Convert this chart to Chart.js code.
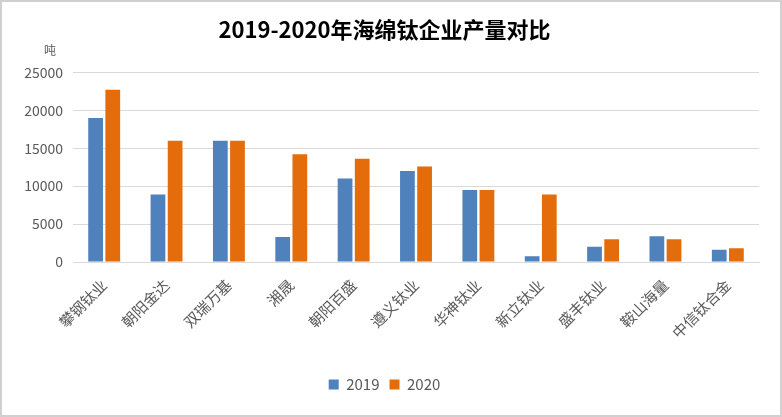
<!DOCTYPE html>
<html>
<head>
<meta charset="utf-8">
<script src="https://cdn.jsdelivr.net/npm/chart.js@4"></script>
<style>
  html, body { margin: 0; padding: 0; background: #fff; }
  #wrap { width: 782px; height: 417px; }
</style>
</head>
<body>
<div id="wrap"><canvas id="c" width="782" height="417"></canvas></div>
<script>
/* 2019-2020 sponge titanium output by company */
const companies = ["攀钢钛业", "朝阳金达", "双瑞万基", "湘晟", "朝阳百盛", "遵义钛业",
                   "华神钛业", "新立钛业", "盛丰钛业", "鞍山海量", "中信钛合金"];
const output2019 = [19000, 8900, 16000, 3300, 11000, 12000, 9500, 750, 2000, 3400, 1600];
const output2020 = [22700, 16000, 16000, 14200, 13600, 12600, 9500, 8900, 3000, 3000, 1800];
const yTicks = [0, 5000, 10000, 15000, 20000, 25000];

const BLUE = "#4f81bd", ORANGE = "#e46c0a", GREY = "#595959";
const CJK = "'Noto Sans CJK SC', 'Noto Sans', sans-serif";

// white background, outer frame and the unit label above the y axis
const frame = {
  id: "frame",
  beforeDraw(chart) {
    const c = chart.ctx;
    c.save();
    c.fillStyle = "#fff"; c.fillRect(0, 0, chart.width, chart.height);
    c.strokeStyle = "#d0d0d0"; c.lineWidth = 2;
    c.strokeRect(1, 1, chart.width - 2, chart.height - 2);
    c.restore();
  },
  afterDraw(chart) {
    const c = chart.ctx, y = chart.scales.y;
    c.save();
    c.font = `12px ${CJK}`; c.fillStyle = GREY;
    c.textAlign = "center"; c.textBaseline = "middle";
    c.fillText("吨", y.left + 40, y.top - 22);
    c.restore();
  },
};

new Chart(document.getElementById("c"), {
  type: "bar",
  data: {
    labels: companies,
    datasets: [
      { label: "2019", data: output2019, backgroundColor: BLUE },
      { label: "2020", data: output2020, backgroundColor: ORANGE },
    ],
  },
  options: {
    responsive: false, animation: false,
    layout: { padding: { top: 8, left: 10, right: 23, bottom: 15 } },
    datasets: { bar: { categoryPercentage: 0.55, barPercentage: 0.86 } },
    plugins: {
      title: {
        display: true, text: "2019-2020年海绵钛企业产量对比", color: "#000",
        font: { family: CJK, size: 22, weight: "bold" }, padding: { top: 8, bottom: 30 },
      },
      legend: {
        position: "bottom",
        labels: { color: GREY, font: { family: CJK, size: 15 }, boxWidth: 10, boxHeight: 10, padding: 10 },
      },
      tooltip: { enabled: false },
    },
    scales: {
      x: {
        grid: { display: false },
        border: { color: "#d9d9d9" },
        ticks: { color: GREY, font: { family: CJK, size: 15 }, maxRotation: 45, minRotation: 45, autoSkip: false, padding: 6 },
        afterFit: (s) => { s.height = 105; },
      },
      y: {
        min: 0, max: 25000,
        afterBuildTicks: (s) => { s.ticks = yTicks.map(v => ({ value: v })); },
        grid: { color: "#d9d9d9", drawTicks: false },
        border: { display: false },
        ticks: { color: GREY, font: { family: CJK, size: 14 }, padding: 10, callback: (v) => String(v) },
        afterFit: (s) => { s.width = 63; },
      },
    },
  },
  plugins: [frame],
});
</script>
</body>
</html>
